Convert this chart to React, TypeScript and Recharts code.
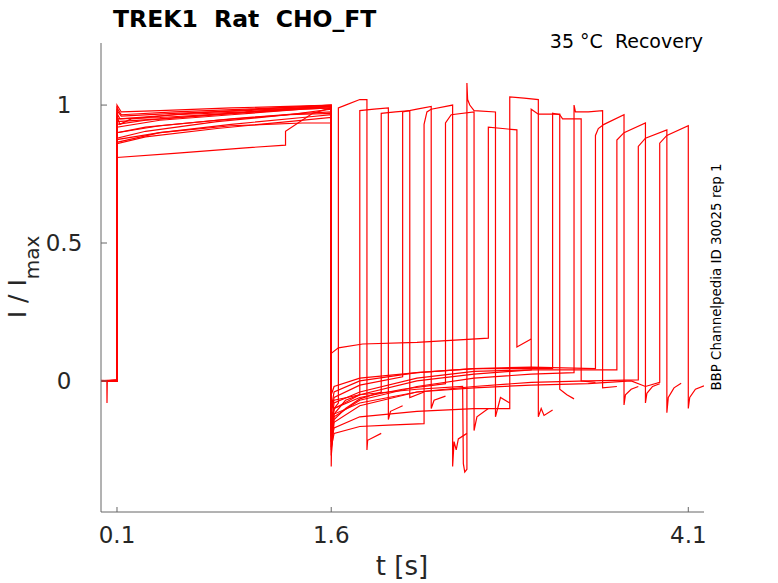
import { Line, LineChart, XAxis, YAxis } from "recharts";

type Pt = [number, number];

const X_TICKS = [0.1, 1.6, 4.1];
const Y_TICKS = [0, 0.5, 1];
const X_DOMAIN: [number, number] = [-0.012, 4.21];
const Y_DOMAIN: [number, number] = [-0.475, 1.225];

const TITLE = "TREK1  Rat  CHO_FT";
const SUBTITLE = "35 °C  Recovery";
const SIDE_NOTE = "BBP Channelpedia ID 30025 rep 1";

// sweeps: [t (s), I/Imax], second pulse steps every 0.15 s after 1.65 s
const sweep01: Pt[] = [[-0.012, 0], [0.06, 0.003], [0.1, 0.002], [0.1, 1.0], [0.13, 0.975], [0.4, 0.98], [0.9, 0.99], [1.3, 0.995], [1.6, 1.0], [1.6, -0.31], [1.605, -0.14], [1.62, -0.1], [1.65, -0.08], [1.65, 0.99], [1.7, 1.0], [1.8, 1.02], [1.85, 1.02], [1.85, -0.25], [1.855, -0.215], [1.95, -0.19]];
const sweep02: Pt[] = [[-0.012, 0.002], [0.1, 0], [0.1, 0.96], [0.12, 0.93], [0.2, 0.95], [0.6, 0.97], [1.1, 0.985], [1.6, 1.0], [1.6, -0.22], [1.62, -0.12], [1.7, -0.07], [1.8, -0.05], [1.8, 0.98], [1.9, 0.985], [2.0, 0.99], [2.0, -0.14], [2.015, -0.11], [2.1, -0.09]];
const sweep03: Pt[] = [[-0.012, -0.002], [0.1, 0.003], [0.1, 0.93], [0.3, 0.945], [0.8, 0.965], [1.3, 0.985], [1.6, 0.995], [1.6, -0.2], [1.62, -0.14], [1.7, -0.1], [1.8, -0.065], [1.95, -0.04], [1.95, 0.97], [2.05, 0.975], [2.15, 0.98], [2.15, -0.06], [2.25, -0.04]];
const sweep04: Pt[] = [[-0.012, 0], [0.1, 0], [0.1, 0.9], [0.3, 0.92], [0.8, 0.945], [1.3, 0.965], [1.6, 0.97], [1.6, -0.12], [1.62, -0.06], [1.8, -0.015], [2.1, 0.015], [2.1, 0.975], [2.2, 0.985], [2.3, 0.995], [2.3, -0.1], [2.32, -0.07], [2.4, -0.055]];
const sweep05: Pt[] = [[-0.012, 0], [0.1, 0], [0.1, 0.88], [0.3, 0.905], [0.8, 0.94], [1.3, 0.965], [1.6, 0.985], [1.6, -0.24], [1.62, -0.19], [1.8, -0.165], [2.0, -0.16], [2.25, -0.155], [2.25, 0.93], [2.27, 0.975], [2.3, 0.985], [2.45, 1.0], [2.45, -0.31], [2.46, -0.22], [2.475, -0.25], [2.49, -0.21], [2.55, -0.19]];
const sweep06: Pt[] = [[-0.012, 0], [0.029, 0], [0.03, -0.08], [0.032, 0], [0.1, 0.005], [0.1, 0.97], [0.12, 0.95], [0.5, 0.965], [1.0, 0.975], [1.6, 0.995], [1.6, -0.16], [1.62, -0.1], [1.8, -0.06], [2.1, -0.03], [2.4, -0.01], [2.4, 0.935], [2.44, 0.965], [2.6, 0.975], [2.6, -0.18], [2.62, -0.13], [2.7, -0.1]];
const sweep07: Pt[] = [[-0.012, 0], [0.1, 0], [0.1, 0.86], [0.3, 0.885], [0.8, 0.915], [1.3, 0.94], [1.6, 0.955], [1.6, -0.1], [1.62, -0.07], [1.8, -0.05], [2.2, -0.03], [2.52, -0.02], [2.525, -0.3], [2.535, -0.33], [2.55, -0.32], [2.55, 1.08], [2.555, 1.02], [2.57, 1.0], [2.6, 0.98], [2.75, 0.975], [2.75, -0.13], [2.785, -0.06], [2.85, -0.08]];
const sweep08: Pt[] = [[-0.012, 0], [0.1, 0], [0.1, 0.81], [0.5, 0.825], [1.0, 0.845], [1.28, 0.855], [1.28, 0.905], [1.47, 0.97], [1.6, 0.99], [1.6, 0.1], [1.65, 0.12], [1.82, 0.134], [2.2, 0.14], [2.7, 0.155], [2.7, 0.92], [2.8, 0.915], [2.9, 0.91], [2.9, 0.123], [3.0, 0.152]];
const sweep09: Pt[] = [[-0.012, 0], [0.1, 0], [0.1, 0.92], [0.4, 0.945], [0.9, 0.965], [1.4, 0.985], [1.6, 0.99], [1.6, -0.22], [1.62, -0.17], [1.8, -0.13], [2.2, -0.11], [2.6, -0.1], [2.85, -0.1], [2.85, 1.03], [2.95, 1.025], [3.05, 1.02], [3.05, -0.13], [3.07, -0.1], [3.09, -0.125], [3.15, -0.105]];
const sweep10: Pt[] = [[-0.012, 0], [0.1, 0], [0.1, 0.95], [0.4, 0.955], [0.9, 0.97], [1.4, 0.985], [1.6, 0.99], [1.6, -0.15], [1.62, -0.08], [1.8, -0.04], [2.2, 0.01], [2.6, 0.035], [3.0, 0.04], [3.0, 0.985], [3.05, 0.967], [3.2, 0.967], [3.2, -0.03], [3.25, -0.05], [3.3, -0.065]];
const sweep11: Pt[] = [[-0.012, 0], [0.1, 0], [0.1, 0.875], [0.4, 0.9], [0.9, 0.925], [1.4, 0.935], [1.6, 0.935], [1.6, -0.05], [1.62, -0.02], [1.8, 0.01], [2.2, 0.03], [2.6, 0.045], [3.15, 0.045], [3.15, 0.97], [3.2, 0.965], [3.22, 0.95], [3.35, 0.95], [3.35, 0], [3.45, -0.005]];
const sweep12: Pt[] = [[-0.012, 0], [0.1, 0], [0.1, 0.99], [0.13, 0.965], [0.5, 0.975], [1.0, 0.985], [1.6, 1.0], [1.6, -0.25], [1.62, -0.13], [1.8, -0.07], [2.2, -0.02], [2.6, 0.01], [3.0, 0.025], [3.3, 0.03], [3.3, 1.0], [3.31, 0.975], [3.4, 0.975], [3.5, 0.98], [3.5, -0.025], [3.6, -0.02]];
const sweep13: Pt[] = [[-0.012, 0], [0.1, 0], [0.1, 0.9], [0.4, 0.925], [0.9, 0.95], [1.4, 0.97], [1.6, 0.975], [1.6, -0.1], [1.62, -0.04], [1.8, 0], [2.2, 0.03], [2.6, 0.045], [3.0, 0.05], [3.45, 0.045], [3.45, 0.89], [3.47, 0.915], [3.51, 0.93], [3.65, 0.965], [3.65, -0.087], [3.66, -0.05], [3.7, -0.03], [3.75, -0.02]];
const sweep14: Pt[] = [[-0.012, 0], [0.1, 0], [0.1, 0.94], [0.4, 0.95], [0.9, 0.97], [1.4, 0.99], [1.6, 0.995], [1.6, -0.18], [1.62, -0.1], [1.8, -0.05], [2.2, 0], [2.6, 0.025], [3.0, 0.04], [3.6, 0.04], [3.6, 0.873], [3.65, 0.9], [3.8, 0.935], [3.8, -0.08], [3.81, -0.045], [3.85, -0.02], [3.9, -0.01]];
const sweep15: Pt[] = [[-0.012, 0], [0.1, 0], [0.1, 0.865], [0.4, 0.9], [0.9, 0.93], [1.4, 0.955], [1.6, 0.965], [1.6, -0.27], [1.62, -0.15], [1.8, -0.09], [2.2, -0.04], [2.6, -0.02], [3.0, -0.005], [3.4, 0], [3.75, 0.004], [3.75, 0.85], [3.8, 0.88], [3.95, 0.91], [3.95, -0.115], [3.96, -0.06], [4.0, -0.025], [4.05, -0.008]];
const sweep16: Pt[] = [[-0.012, 0], [0.1, 0], [0.1, 0.98], [0.13, 0.96], [0.5, 0.97], [1.0, 0.98], [1.6, 0.995], [1.6, -0.2], [1.62, -0.12], [1.8, -0.08], [2.2, -0.04], [2.6, -0.025], [3.0, -0.015], [3.4, -0.01], [3.7, 0], [3.8, -0.02], [3.9, -0.005], [3.9, 0.862], [3.95, 0.89], [4.1, 0.925], [4.1, -0.1], [4.11, -0.06], [4.15, -0.03], [4.21, -0.018]];

const SWEEPS = [
  sweep01, sweep02, sweep03, sweep04, sweep05, sweep06, sweep07, sweep08,
  sweep09, sweep10, sweep11, sweep12, sweep13, sweep14, sweep15, sweep16,
];

const AXIS = "#666666";
const INK = "#262626";
const FONT = "DejaVu Sans";

function XTick(props: any) {
  const { x, y, payload } = props;
  return (
    <text x={x} y={y} textAnchor="middle" fontSize={23} fill={INK} fontFamily={FONT}>
      {String(payload.value)}
    </text>
  );
}

function YTick(props: any) {
  const { x, y, payload } = props;
  return (
    <text x={x} y={y + 8} textAnchor="middle" fontSize={23} fill={INK} fontFamily={FONT}>
      {String(payload.value)}
    </text>
  );
}

export default function App() {
  return (
    <div style={{ position: "absolute", left: 0, top: 0, width: 778, height: 583, background: "#fff" }}>
      <LineChart width={778} height={583} margin={{ top: 43, right: 74, bottom: 41, left: 41 }}>
        <XAxis
          dataKey="t"
          type="number"
          domain={X_DOMAIN}
          ticks={X_TICKS}
          allowDataOverflow
          height={30}
          tickSize={-5}
          tickMargin={36}
          axisLine={{ stroke: AXIS }}
          tickLine={{ stroke: AXIS }}
          tick={<XTick />}
        />
        <YAxis
          type="number"
          domain={Y_DOMAIN}
          ticks={Y_TICKS}
          allowDataOverflow
          width={60}
          tickSize={-6}
          tickMargin={43}
          axisLine={{ stroke: AXIS }}
          tickLine={{ stroke: AXIS }}
          tick={<YTick />}
        />
        {SWEEPS.map((s, i) => (
          <Line
            key={i}
            data={s.map(([t, v]) => ({ t, v }))}
            dataKey="v"
            type="linear"
            stroke="#ff0000"
            strokeWidth={1.2}
            dot={false}
            activeDot={false}
            isAnimationActive={false}
          />
        ))}
      </LineChart>
      <svg
        width={778}
        height={583}
        style={{ position: "absolute", left: 0, top: 0, pointerEvents: "none" }}
        fontFamily={FONT}
      >
        <text x={113} y={27} fontSize={23.5} fontWeight="bold" fill="#000" style={{ whiteSpace: "pre" }}>
          {TITLE}
        </text>
        <text x={703} y={48} fontSize={19} textAnchor="end" fill="#000" style={{ whiteSpace: "pre" }}>
          {SUBTITLE}
        </text>
        <text transform="translate(721,277) rotate(-90)" fontSize={13.4} textAnchor="middle" fill="#000">
          {SIDE_NOTE}
        </text>
        <text x={402} y={575} fontSize={26} textAnchor="middle" fill={INK}>
          t [s]
        </text>
        <text transform="translate(26,277) rotate(-90)" fontSize={25} textAnchor="middle" fill={INK} style={{ whiteSpace: "pre" }}>
          I / I<tspan fontSize={20} dy={13}>max</tspan>
        </text>
      </svg>
    </div>
  );
}
